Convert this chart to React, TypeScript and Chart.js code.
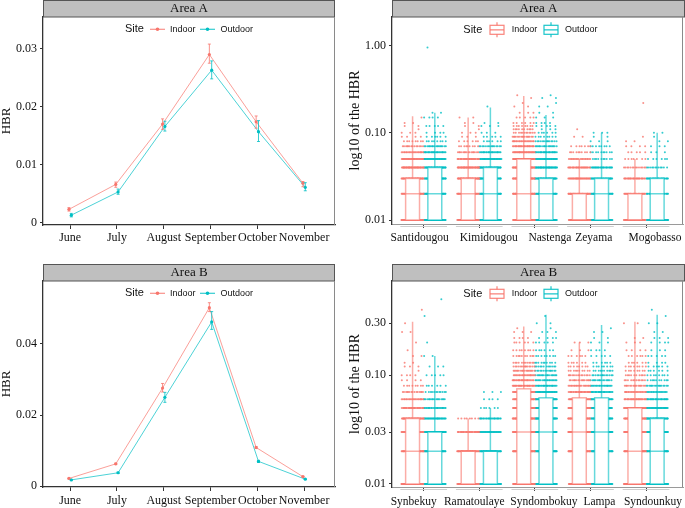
import React, { useEffect, useRef } from "react";
import { Chart, registerables } from "chart.js";
Chart.register(...registerables);

const SERIF = '"Liberation Serif", "Times New Roman", serif';
const SANS = '"Liberation Sans", Arial, sans-serif';
const RED = "248,118,109";
const CYAN = "0,191,196";

// ---------- Line charts (monthly HBR) ----------
const MONTHS = ["June", "July", "August", "September", "October", "November"];
const A_INDOOR = [0.0023, 0.0066, 0.017, 0.029, 0.0174, 0.0068];
const A_INDOOR_LO = [0.002, 0.0061, 0.0161, 0.0275, 0.0163, 0.0062];
const A_INDOOR_HI = [0.0026, 0.007, 0.0179, 0.0308, 0.0184, 0.0071];
const A_OUTDOOR = [0.0013, 0.0053, 0.0166, 0.0263, 0.0157, 0.0061];
const A_OUTDOOR_LO = [0.001, 0.0049, 0.0158, 0.0248, 0.014, 0.0055];
const A_OUTDOOR_HI = [0.0016, 0.0058, 0.0175, 0.0279, 0.0176, 0.0069];
const A_LINE_TICKS = [0, 0.01, 0.02, 0.03];

const B_INDOOR = [0.0022, 0.0063, 0.0276, 0.0502, 0.0109, 0.0027];
const B_INDOOR_LO = [0.0021, 0.0061, 0.0265, 0.0491, 0.0106, 0.0026];
const B_INDOOR_HI = [0.0023, 0.0065, 0.0289, 0.0516, 0.0112, 0.0028];
const B_OUTDOOR = [0.0018, 0.0038, 0.025, 0.0462, 0.007, 0.002];
const B_OUTDOOR_LO = [0.0017, 0.0036, 0.0236, 0.0441, 0.0067, 0.0019];
const B_OUTDOOR_HI = [0.0019, 0.004, 0.0264, 0.0491, 0.0073, 0.0021];
const B_LINE_TICKS = [0, 0.02, 0.04];

// ---------- Box plots (log10 HBR per site) ----------
const LEVELS = [0.01, 0.02, 0.03, 0.04, 0.05, 0.06, 0.07, 0.08, 0.09, 0.1, 0.11, 0.12, 0.13, 0.15, 0.17, 0.2, 0.22, 0.25, 0.27, 0.3, 0.35, 0.4, 0.5, 0.95];

const SITES_A = ["Santidougou", "Kimidougou", "Nastenga", "Zeyama", "Mogobasso"];
// [min, q1, median, q3, max]
const BOX_A_IN = [
  [0.01, 0.01, 0.02, 0.03, 0.155],
  [0.01, 0.01, 0.02, 0.03, 0.15],
  [0.01, 0.01, 0.02, 0.05, 0.265],
  [0.01, 0.01, 0.01, 0.02, 0.05],
  [0.01, 0.01, 0.01, 0.02, 0.05],
];
const BOX_A_OUT = [
  [0.01, 0.01, 0.02, 0.04, 0.17],
  [0.01, 0.01, 0.02, 0.04, 0.195],
  [0.01, 0.01, 0.02, 0.03, 0.16],
  [0.01, 0.01, 0.02, 0.03, 0.1],
  [0.01, 0.01, 0.02, 0.03, 0.1],
];
// counts of observations at each LEVELS value
const PTS_A_IN = [
  [45, 40, 45, 45, 35, 22, 14, 8, 4, 3, 1, 2, 2, 1, 0, 0, 0, 0, 0, 0, 0, 0, 0, 0],
  [45, 40, 45, 45, 30, 16, 9, 6, 3, 3, 1, 2, 2, 2, 0, 0, 0, 0, 0, 0, 0, 0, 0, 0],
  [50, 45, 50, 50, 45, 35, 28, 22, 16, 12, 10, 8, 6, 5, 3, 2, 1, 1, 1, 0, 0, 0, 0, 0],
  [45, 40, 35, 30, 20, 10, 7, 0, 2, 0, 1, 0, 0, 0, 0, 0, 0, 0, 0, 0, 0, 0, 0, 0],
  [40, 30, 28, 14, 7, 5, 4, 2, 1, 0, 0, 0, 0, 0, 0, 0, 1, 0, 0, 0, 0, 0, 0, 0],
];
const PTS_A_OUT = [
  [45, 40, 45, 45, 35, 28, 18, 8, 6, 4, 0, 5, 0, 4, 2, 0, 0, 0, 0, 0, 0, 0, 0, 1],
  [45, 40, 45, 45, 35, 25, 15, 6, 5, 3, 0, 3, 2, 0, 0, 1, 0, 0, 0, 0, 0, 0, 0, 0],
  [45, 40, 45, 45, 35, 28, 18, 14, 8, 6, 3, 5, 4, 3, 2, 2, 1, 2, 1, 0, 0, 0, 0, 0],
  [45, 40, 35, 30, 10, 10, 8, 3, 2, 3, 0, 0, 0, 0, 0, 0, 0, 0, 0, 0, 0, 0, 0, 0],
  [40, 30, 30, 12, 6, 3, 3, 2, 1, 2, 0, 0, 0, 0, 0, 0, 0, 0, 0, 0, 0, 0, 0, 0],
];
const A_LOG_TICKS = [0.01, 0.1, 1];

const SITES_B = ["Synbekuy", "Ramatoulaye", "Syndombokuy", "Lampa", "Syndounkuy"];
const BOX_B_IN = [
  [0.01, 0.01, 0.02, 0.04, 0.31],
  [0.01, 0.01, 0.02, 0.02, 0.04],
  [0.01, 0.01, 0.03, 0.075, 0.28],
  [0.01, 0.01, 0.03, 0.062, 0.2],
  [0.01, 0.01, 0.02, 0.05, 0.31],
];
const BOX_B_OUT = [
  [0.01, 0.01, 0.02, 0.03, 0.15],
  [0.01, 0.01, 0.02, 0.02, 0.05],
  [0.01, 0.01, 0.03, 0.062, 0.36],
  [0.01, 0.01, 0.03, 0.062, 0.29],
  [0.01, 0.01, 0.02, 0.04, 0.36],
];
const PTS_B_IN = [
  [45, 45, 40, 45, 30, 22, 15, 8, 4, 4, 1, 3, 2, 2, 1, 1, 0, 2, 0, 1, 0, 1, 0, 0],
  [40, 40, 30, 8, 0, 0, 0, 0, 0, 0, 0, 0, 0, 0, 0, 0, 0, 0, 0, 0, 0, 0, 0, 0],
  [50, 50, 50, 50, 45, 40, 35, 30, 25, 22, 18, 14, 12, 10, 8, 6, 4, 3, 1, 0, 0, 0, 0, 0],
  [50, 50, 50, 45, 40, 35, 28, 20, 16, 14, 10, 8, 6, 6, 3, 3, 0, 0, 0, 0, 0, 0, 0, 0],
  [50, 50, 50, 45, 40, 30, 22, 16, 12, 10, 8, 8, 6, 6, 4, 3, 2, 0, 0, 2, 0, 0, 0, 0],
];
const PTS_B_OUT = [
  [45, 45, 45, 35, 25, 18, 12, 6, 0, 5, 0, 3, 0, 2, 0, 1, 0, 0, 0, 0, 1, 0, 1, 0],
  [40, 40, 35, 25, 6, 4, 3, 0, 0, 0, 0, 0, 0, 0, 0, 0, 0, 0, 0, 0, 0, 0, 0, 0],
  [50, 50, 50, 50, 45, 40, 35, 25, 20, 18, 14, 12, 10, 8, 6, 5, 4, 3, 1, 2, 1, 0, 0, 0],
  [50, 50, 50, 45, 40, 35, 28, 22, 16, 14, 10, 8, 6, 5, 4, 3, 2, 2, 1, 0, 0, 0, 0, 0],
  [50, 50, 50, 45, 35, 28, 20, 16, 10, 8, 6, 6, 4, 5, 3, 4, 3, 2, 0, 2, 1, 1, 0, 0],
];
const B_LOG_TICKS = [0.01, 0.03, 0.1, 0.3];

// horizontal nudges (px) of the site labels, as laid out in the figure
const LABEL_NUDGE_A = [-4, 9.5, 15, 3.3, 9];
const LABEL_NUDGE_B = [-10, -5, 9, 9, 7];

// ---------- plugins ----------
function stripPlugin(label: string, toEdge: boolean) {
  return {
    id: "strip",
    afterDraw(chart: any) {
      const { ctx, chartArea: a } = chart;
      const r = toEdge ? chart.width : a.right;
      ctx.save();
      ctx.fillStyle = "#bfbfbf";
      ctx.fillRect(a.left, a.top - 17, r - a.left, 17);
      ctx.strokeStyle = "#555";
      ctx.lineWidth = 1;
      ctx.strokeRect(a.left + 0.5, a.top - 16.5, r - a.left - 1, 16.5);
      ctx.fillStyle = "#111";
      ctx.font = `13px ${SERIF}`;
      ctx.textAlign = "center";
      ctx.textBaseline = "middle";
      ctx.fillText(label, (a.left + r) / 2, a.top - 8);
      ctx.restore();
    },
  };
}

const rightBorderPlugin = {
  id: "rightBorder",
  afterDraw(chart: any) {
    const { ctx, chartArea: a } = chart;
    ctx.save();
    ctx.strokeStyle = "#8a8a8a";
    ctx.lineWidth = 1;
    ctx.beginPath();
    ctx.moveTo(a.right - 0.5, a.top);
    ctx.lineTo(a.right - 0.5, a.bottom);
    ctx.stroke();
    ctx.restore();
  },
};

function lineLegendPlugin() {
  return {
    id: "lineLegend",
    afterDraw(chart: any) {
      const { ctx, chartArea: a } = chart;
      const y = a.top + 12.3;
      ctx.save();
      ctx.textBaseline = "middle";
      ctx.textAlign = "left";
      ctx.fillStyle = "#111";
      ctx.font = `11px ${SANS}`;
      ctx.fillText("Site", 125, y);
      const items: any[] = [
        [150, RED, "Indoor", 170],
        [200, CYAN, "Outdoor", 220.5],
      ];
      items.forEach(([x0, c, t, tx]) => {
        ctx.strokeStyle = `rgba(${c},0.8)`;
        ctx.lineWidth = 1.2;
        ctx.beginPath();
        ctx.moveTo(x0, y);
        ctx.lineTo(x0 + 15, y);
        ctx.stroke();
        ctx.fillStyle = `rgb(${c})`;
        ctx.beginPath();
        ctx.arc(x0 + 7.5, y, 1.8, 0, Math.PI * 2);
        ctx.fill();
        ctx.fillStyle = "#111";
        ctx.font = `9px ${SANS}`;
        ctx.fillText(t, tx, y);
      });
      ctx.restore();
    },
  };
}

function errorBarPlugin(series: { xs: number[]; lo: number[]; hi: number[]; color: string }[]) {
  return {
    id: "errorBars",
    afterDatasetsDraw(chart: any) {
      const { ctx } = chart;
      const xs = chart.scales.x;
      const ys = chart.scales.y;
      ctx.save();
      series.forEach((s) => {
        ctx.strokeStyle = s.color;
        ctx.lineWidth = 1;
        s.xs.forEach((xv, i) => {
          const x = xs.getPixelForValue(xv);
          const y1 = ys.getPixelForValue(s.lo[i]);
          const y2 = ys.getPixelForValue(s.hi[i]);
          ctx.beginPath();
          ctx.moveTo(x, y1);
          ctx.lineTo(x, y2);
          ctx.moveTo(x - 1.5, y1);
          ctx.lineTo(x + 1.5, y1);
          ctx.moveTo(x - 1.5, y2);
          ctx.lineTo(x + 1.5, y2);
          ctx.stroke();
        });
      });
      ctx.restore();
    },
  };
}

function boxPlugin(boxIn: number[][], boxOut: number[][]) {
  return {
    id: "boxes",
    afterDatasetsDraw(chart: any) {
      const { ctx } = chart;
      const xs = chart.scales.x;
      const ys = chart.scales.y;
      ctx.save();
      const groups: any[] = [
        [boxIn, -0.2, RED],
        [boxOut, 0.2, CYAN],
      ];
      groups.forEach(([boxes, off, c]) => {
        boxes.forEach((b: number[], i: number) => {
          const cx = xs.getPixelForValue(i + 1 + off);
          const hw = xs.getPixelForValue(i + 1 + off + 0.125) - cx;
          const [mn, q1, md, q3, mx] = b.map((v) => ys.getPixelForValue(v));
          ctx.fillStyle = "#ffffff";
          ctx.fillRect(cx - hw, q3, hw * 2, q1 - q3);
          ctx.strokeStyle = `rgba(${c},0.6)`;
          ctx.lineWidth = 1.5;
          ctx.strokeRect(cx - hw, q3, hw * 2, q1 - q3);
          ctx.beginPath();
          ctx.moveTo(cx - hw, md);
          ctx.lineTo(cx + hw, md);
          ctx.moveTo(cx, q3);
          ctx.lineTo(cx, mx);
          ctx.moveTo(cx, q1);
          ctx.lineTo(cx, mn);
          ctx.stroke();
        });
      });
      ctx.restore();
    },
  };
}

function boxLegendPlugin() {
  return {
    id: "boxLegend",
    afterDraw(chart: any) {
      const { ctx, chartArea: a } = chart;
      const y = a.top + 12.8;
      ctx.save();
      ctx.textBaseline = "middle";
      ctx.textAlign = "left";
      ctx.fillStyle = "#111";
      ctx.font = `11px ${SANS}`;
      ctx.fillText("Site", 121.3, y);
      const items: any[] = [
        [148, RED, "Indoor", 169.7],
        [202, CYAN, "Outdoor", 223],
      ];
      items.forEach(([x0, c, t, tx]) => {
        ctx.strokeStyle = `rgba(${c},0.9)`;
        ctx.lineWidth = 1.2;
        ctx.strokeRect(x0, y - 4.5, 14, 9);
        ctx.beginPath();
        ctx.moveTo(x0, y);
        ctx.lineTo(x0 + 14, y);
        ctx.moveTo(x0 + 7, y - 4.5);
        ctx.lineTo(x0 + 7, y - 7.5);
        ctx.moveTo(x0 + 7, y + 4.5);
        ctx.lineTo(x0 + 7, y + 7.5);
        ctx.stroke();
        ctx.fillStyle = "#111";
        ctx.font = `9px ${SANS}`;
        ctx.fillText(t, tx, y);
      });
      ctx.restore();
    },
  };
}

function axisDecorPlugin(sites: string[], nudges: number[], labelGap: number) {
  return {
    id: "axisDecor",
    afterDraw(chart: any) {
      const { ctx, chartArea: a } = chart;
      const xs = chart.scales.x;
      ctx.save();
      ctx.strokeStyle = "#cfcfcf";
      ctx.lineWidth = 1;
      xs.ticks.forEach((t: any) => {
        ctx.beginPath();
        ctx.moveTo(xs.getPixelForValue(t.value - 0.42), a.bottom + 2.5);
        ctx.lineTo(xs.getPixelForValue(t.value + 0.42), a.bottom + 2.5);
        ctx.stroke();
      });
      ctx.fillStyle = "#111";
      ctx.font = `11.5px ${SERIF}`;
      ctx.textAlign = "center";
      ctx.textBaseline = "middle";
      xs.ticks.forEach((t: any, i: number) => {
        const x = xs.getPixelForValue(t.value) + nudges[i];
        ctx.fillText(sites[t.value - 1], x, a.bottom + labelGap);
      });
      ctx.restore();
    },
  };
}

// ---------- config builders ----------
function jitterPoints(counts: number[][], side: number) {
  const pts: { x: number; y: number }[] = [];
  counts.forEach((row, ci) => {
    row.forEach((n, li) => {
      for (let k = 0; k < n; k++) {
        const f = (k * 0.6180339 + li * 0.377 + ci * 0.211 + (side > 0 ? 0.5 : 0)) % 1;
        pts.push({ x: ci + 1 + side * 0.2 + (f - 0.5) * 0.4, y: LEVELS[li] });
      }
    });
  });
  return pts;
}

function lineConfig(o: any) {
  const xIn = o.inV.map((_: number, i: number) => i + 1 - 0.025);
  const xOut = o.outV.map((_: number, i: number) => i + 1 + 0.025);
  return {
    type: "line",
    data: {
      datasets: [
        {
          label: "Indoor",
          data: o.inV.map((v: number, i: number) => ({ x: xIn[i], y: v })),
          borderColor: `rgba(${RED},0.7)`,
          borderWidth: 1,
          pointRadius: 1.6,
          pointBackgroundColor: `rgb(${RED})`,
          pointBorderWidth: 0,
          tension: 0,
        },
        {
          label: "Outdoor",
          data: o.outV.map((v: number, i: number) => ({ x: xOut[i], y: v })),
          borderColor: `rgba(${CYAN},0.7)`,
          borderWidth: 1,
          pointRadius: 1.6,
          pointBackgroundColor: `rgb(${CYAN})`,
          pointBorderWidth: 0,
          tension: 0,
        },
      ],
    },
    options: {
      responsive: false,
      animation: false,
      events: [],
      layout: { padding: { top: o.padTop, right: 7, bottom: 0, left: 0 }, autoPadding: false },
      plugins: { legend: { display: false }, tooltip: { enabled: false } },
      scales: {
        x: {
          type: "linear",
          min: 0.42,
          max: 6.66,
          afterBuildTicks: (s: any) => {
            s.ticks = MONTHS.map((_, i) => ({ value: i + 1 }));
          },
          afterFit: (s: any) => {
            s.height = o.xHeight;
            s.paddingLeft = 0;
            s.paddingRight = 0;
          },
          ticks: {
            callback: (v: number) => MONTHS[v - 1],
            font: { family: SERIF, size: 12 },
            color: "#111",
            padding: o.labelPad,
            maxRotation: 0,
            autoSkip: false,
          },
          grid: { drawOnChartArea: false, drawTicks: true, tickLength: 4, color: "#333" },
          border: { display: true, color: "#333", width: 1.3 },
        },
        y: {
          type: "linear",
          min: o.yMin,
          max: o.yMax,
          afterBuildTicks: (s: any) => {
            s.ticks = o.yTicks.map((v: number) => ({ value: v }));
          },
          afterFit: (s: any) => {
            s.width = 43;
            s.paddingTop = 0;
            s.paddingBottom = 0;
          },
          ticks: {
            callback: (v: number) => (v === 0 ? "0" : v.toFixed(2)),
            font: { family: SERIF, size: 12 },
            color: "#111",
            padding: 3,
          },
          grid: { drawOnChartArea: false, drawTicks: true, tickLength: 3, color: "#333" },
          border: { display: true, color: "#333", width: 1.3 },
          title: {
            display: true,
            text: "HBR",
            font: { family: SERIF, size: 13, lineHeight: 1 },
            color: "#111",
            padding: { top: 0, bottom: 0 },
          },
        },
      },
    },
    plugins: [
      stripPlugin(o.title, false),
      rightBorderPlugin,
      errorBarPlugin([
        { xs: xIn, lo: o.inLo, hi: o.inHi, color: `rgba(${RED},0.8)` },
        { xs: xOut, lo: o.outLo, hi: o.outHi, color: `rgba(${CYAN},0.8)` },
      ]),
      lineLegendPlugin(),
    ],
  };
}

function boxConfig(o: any) {
  return {
    type: "scatter",
    data: {
      datasets: [
        {
          label: "Indoor",
          data: jitterPoints(o.ptsIn, -1),
          backgroundColor: `rgba(${RED},0.8)`,
          pointRadius: 1,
          pointBorderWidth: 0,
          pointHoverRadius: 0,
        },
        {
          label: "Outdoor",
          data: jitterPoints(o.ptsOut, 1),
          backgroundColor: `rgba(${CYAN},0.8)`,
          pointRadius: 1,
          pointBorderWidth: 0,
          pointHoverRadius: 0,
        },
      ],
    },
    options: {
      responsive: false,
      animation: false,
      events: [],
      layout: { padding: { top: o.padTop, right: 2, bottom: 0, left: 0 }, autoPadding: false },
      plugins: { legend: { display: false }, tooltip: { enabled: false } },
      scales: {
        x: {
          type: "linear",
          min: 0.43,
          max: 5.665,
          afterBuildTicks: (s: any) => {
            s.ticks = o.sites.map((_: string, i: number) => ({ value: i + 1 }));
          },
          afterFit: (s: any) => {
            s.height = o.xHeight;
            s.paddingLeft = 0;
            s.paddingRight = 0;
          },
          ticks: { display: false, autoSkip: false },
          grid: { drawOnChartArea: false, drawTicks: true, tickLength: 4, color: "#444" },
          border: { display: true, color: "#9a9a9a", width: 1 },
        },
        y: {
          type: "logarithmic",
          min: o.yMin,
          max: o.yMax,
          afterBuildTicks: (s: any) => {
            s.ticks = o.yTicks.map((v: number) => ({ value: v }));
          },
          afterFit: (s: any) => {
            s.width = 50;
            s.paddingTop = 0;
            s.paddingBottom = 0;
          },
          ticks: {
            callback: (v: number) => Number(v).toFixed(2),
            font: { family: SERIF, size: 12 },
            color: "#111",
            padding: 3,
            autoSkip: false,
          },
          grid: { drawOnChartArea: false, drawTicks: true, tickLength: 3, color: "#333" },
          border: { display: true, color: "#333", width: 1.3 },
          title: {
            display: true,
            text: "log10 of the HBR",
            font: { family: SERIF, size: 14, lineHeight: 1 },
            color: "#111",
            padding: { top: 6, bottom: 0 },
          },
        },
      },
    },
    plugins: [
      boxPlugin(o.boxIn, o.boxOut),
      stripPlugin(o.title, true),
      rightBorderPlugin,
      axisDecorPlugin(o.sites, o.nudges, o.labelGap),
      boxLegendPlugin(),
    ],
  };
}

function Panel(props: { x: number; y: number; w: number; h: number; make: () => any }) {
  const ref = useRef<HTMLCanvasElement>(null);
  useEffect(() => {
    const chart = new Chart(ref.current as HTMLCanvasElement, props.make());
    return () => chart.destroy();
  }, []);
  return (
    <canvas
      ref={ref}
      width={props.w}
      height={props.h}
      style={{ position: "absolute", left: props.x, top: props.y, width: props.w, height: props.h }}
    />
  );
}

export default function App() {
  return (
    <div style={{ position: "absolute", left: 0, top: 0, width: 685, height: 508, background: "#fff", overflow: "hidden" }}>
      <Panel
        x={0}
        y={0}
        w={342}
        h={254}
        make={() =>
          lineConfig({
            title: "Area A",
            inV: A_INDOOR, inLo: A_INDOOR_LO, inHi: A_INDOOR_HI,
            outV: A_OUTDOOR, outLo: A_OUTDOOR_LO, outHi: A_OUTDOOR_HI,
            yMin: -0.0004, yMax: 0.03547, yTicks: A_LINE_TICKS,
            padTop: 17, xHeight: 29, labelPad: 2,
          })
        }
      />
      <Panel
        x={0}
        y={254}
        w={342}
        h={254}
        make={() =>
          lineConfig({
            title: "Area B",
            inV: B_INDOOR, inLo: B_INDOOR_LO, inHi: B_INDOOR_HI,
            outV: B_OUTDOOR, outLo: B_OUTDOOR_LO, outHi: B_OUTDOOR_HI,
            yMin: -0.0002, yMax: 0.0577, yTicks: B_LINE_TICKS,
            padTop: 27, xHeight: 21, labelPad: 3,
          })
        }
      />
      <Panel
        x={342}
        y={0}
        w={343}
        h={254}
        make={() =>
          boxConfig({
            title: "Area A", sites: SITES_A, nudges: LABEL_NUDGE_A, labelGap: 14.3,
            boxIn: BOX_A_IN, boxOut: BOX_A_OUT, ptsIn: PTS_A_IN, ptsOut: PTS_A_OUT,
            yMin: 0.009, yMax: 2.13, yTicks: A_LOG_TICKS,
            padTop: 17, xHeight: 30,
          })
        }
      />
      <Panel
        x={342}
        y={254}
        w={343}
        h={254}
        make={() =>
          boxConfig({
            title: "Area B", sites: SITES_B, nudges: LABEL_NUDGE_B, labelGap: 15.3,
            boxIn: BOX_B_IN, boxOut: BOX_B_OUT, ptsIn: PTS_B_IN, ptsOut: PTS_B_OUT,
            yMin: 0.00938, yMax: 0.735, yTicks: B_LOG_TICKS,
            padTop: 27, xHeight: 21,
          })
        }
      />
    </div>
  );
}
